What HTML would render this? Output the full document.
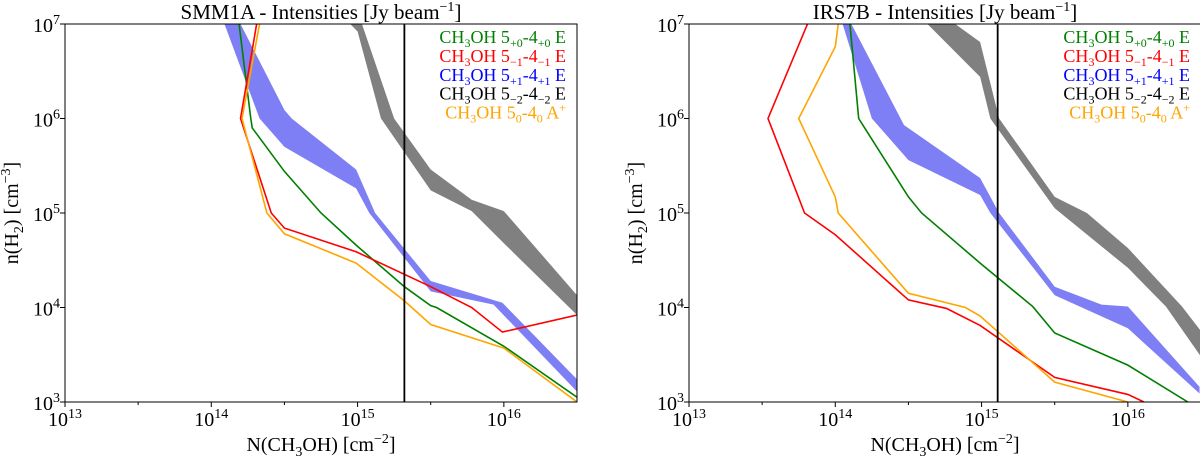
<!DOCTYPE html>
<html><head><meta charset="utf-8"><style>
body{margin:0;background:#fff}
svg{display:block;font-family:"Liberation Serif","DejaVu Serif",serif}
</style></head><body>
<svg id="fig" width="1200" height="457" viewBox="0 0 1200 457"></svg>
<script>
// ---- data (log10 N, log10 n) ----
const xTicks=[13,14,15,16];
const yTicks=[3,4,5,6,7];
const legendLabels=[["5","+0","4","+0"," E"],["5","−1","4","−1"," E"],["5","+1","4","+1"," E"],["5","−2","4","−2"," E"],["5","0","4","0"," A"]];
const legendColors=["green","red","blue","black","orange"];

const L_greenX=[14.19,14.27,14.28,14.50,14.75,14.99,15.32,15.50,15.54,16.0,16.5];
const L_greenY=[7,6.0,5.9,5.44,5.0,4.66,4.22,4.02,4.0,3.59,3.05];
const L_redX=[14.31,14.20,14.41,14.50,14.99,15.50,15.78,15.99,16.5];
const L_redY=[7,6.0,5.0,4.84,4.59,4.22,4.0,3.74,3.92];
const L_orangeX=[14.33,14.21,14.38,14.50,14.99,15.32,15.50,16.0,16.5];
const L_orangeY=[7,6.0,5.0,4.78,4.47,4.07,3.82,3.57,3.0];
const L_blueUpX=[14.2,14.50,14.55,14.99,15.12,15.50,15.99,16.5];
const L_blueUpY=[7,6.09,6.0,5.46,5.0,4.28,4.05,3.24];
const L_blueLoX=[14.09,14.33,14.50,14.99,15.08,15.50,15.93,16.5];
const L_blueLoY=[7,6.0,5.70,5.26,5.0,4.17,4.03,3.11];
const L_grayUpX=[15.03,15.25,15.50,15.78,16.0,16.5];
const L_grayUpY=[7,6.0,5.46,5.14,5.02,4.13];
const L_grayLoX=[14.95,15.0,15.16,15.50,15.78,16.0,16.5];
const L_grayLoY=[7,6.92,6.0,5.24,5.02,4.68,3.92];
const L_vline=15.32;

const R_greenX=[14.10,14.16,14.50,14.59,14.99,15.35,15.50,16.0,16.41];
const R_greenY=[7,6.0,5.17,5.0,4.47,4.01,3.73,3.39,3.0];
const R_redX=[13.81,13.54,13.79,14.0,14.50,14.76,14.99,15.50,16.0,16.11];
const R_redY=[7,6.0,5.0,4.77,4.08,3.99,3.81,3.26,3.08,3.0];
const R_orangeX=[14.02,14.0,13.75,14.0,14.02,14.50,14.89,14.99,15.50,16.0];
const R_orangeY=[7,6.76,6.0,5.17,5.0,4.15,4.0,3.91,3.21,3.0];
const R_blueUpX=[14.11,14.47,14.99,15.12,15.50,15.82,16.0,16.49];
const R_blueUpY=[7,5.93,5.37,5.0,4.22,4.03,4.01,3.16];
const R_blueLoX=[14.05,14.25,14.50,14.99,15.06,15.50,16.0,16.49];
const R_blueLoY=[7,6.0,5.56,5.19,5.0,4.13,3.78,3.09];
const R_grayUpX=[14.82,14.99,15.12,15.50,15.72,16.0,16.37,16.5];
const R_grayUpY=[7,6.81,6.0,5.17,5.0,4.63,4.01,3.75];
const R_grayLoX=[14.63,14.99,15.06,15.50,16.0,16.26,16.5];
const R_grayLoY=[7,6.44,6.0,5.05,4.42,4.01,3.48];
const R_vline=15.11;

const NS="http://www.w3.org/2000/svg";
const svg=document.getElementById('fig');
function el(tag,attrs,parent){const e=document.createElementNS(NS,tag);for(const k in attrs)e.setAttribute(k,attrs[k]);(parent||svg).appendChild(e);return e;}

function panel(x0,title,d){
  const top=24,bot=402,x1=x0+512;
  const g=el('g',{});
  
  
  const sx=v=>x0+(v-13)/3.5*(x1-x0);
  const sy=v=>bot-(v-3)/4*(bot-top);
  const cp=el('clipPath',{id:'c'+x0},g);
  el('rect',{x:x0,y:top,width:x1-x0,height:bot-top},cp);
  const pg=el('g',{'clip-path':'url(#c'+x0+')'},g);
  function band(ux,uy,lx,ly,col,name){
    let pts=ux.map((v,i)=>sx(v)+','+sy(uy[i]));
    for(let i=lx.length-1;i>=0;i--)pts.push(sx(lx[i])+','+sy(ly[i]));
    const p=el('polygon',{points:pts.join(' '),fill:col,stroke:'none'},pg);
    
    
  }
  function line(xs,ys,col,name){
    const p=el('polyline',{points:xs.map((v,i)=>sx(v)+','+sy(ys[i])).join(' '),fill:'none',stroke:col,'stroke-width':1.6},pg);
    
    
  }
  band(d.gux,d.guy,d.glx,d.gly,'#808080','gray-band-5-2');
  band(d.bux,d.buy,d.blx,d.bly,'#7f7ff5','blue-band-5p1');
  line(d.gx,d.gy,'green','green-line-5p0');
  line(d.rx,d.ry,'red','red-line-5m1');
  line(d.ox,d.oy,'orange','orange-line-5-0A');
  const vl=el('line',{x1:sx(d.v),x2:sx(d.v),y1:top,y2:bot,stroke:'black','stroke-width':1.8},pg);
  
  
  const fr=el('rect',{x:x0,y:top,width:x1-x0,height:bot-top,fill:'none',stroke:'black','stroke-width':1},g);
  
  
  xTicks.forEach(t=>{
    el('line',{x1:sx(t),x2:sx(t),y1:bot,y2:bot+5,stroke:'black'},g);
    if(t+0.5<16.5)el('line',{x1:sx(t+0.5),x2:sx(t+0.5),y1:bot,y2:bot+3,stroke:'black'},g);
    const tx=el('text',{x:sx(t),y:bot+24,'text-anchor':'middle','font-size':20},g);
    
    
    tx.innerHTML='10<tspan dy="-8" font-size="14">'+t+'</tspan>';
  });
  yTicks.forEach(t=>{
    el('line',{x1:x0-5,x2:x0,y1:sy(t),y2:sy(t),stroke:'black'},g);
    const ty=el('text',{x:x0-5,y:sy(t)+8,'text-anchor':'end','font-size':20},g);
    
    
    ty.innerHTML='10<tspan dy="-8" font-size="14">'+t+'</tspan>';
  });
  const tt=el('text',{x:(x0+x1)/2,y:19,'text-anchor':'middle','font-size':21},g);
  
  
  tt.innerHTML=title+' - Intensities [Jy beam<tspan dy="-8" font-size="14">−1</tspan><tspan dy="8">]</tspan>';
  const xl=el('text',{x:(x0+x1)/2,y:451,'text-anchor':'middle','font-size':20},g);
  
  
  xl.innerHTML='N(CH<tspan dy="5" font-size="14">3</tspan><tspan dy="-5">OH) [cm</tspan><tspan dy="-8" font-size="14">−2</tspan><tspan dy="8">]</tspan>';
  const yl=el('text',{x:0,y:0,'text-anchor':'middle','font-size':20,transform:'translate('+(x0-47)+','+((top+bot)/2)+') rotate(-90)'},g);
  
  
  yl.innerHTML='n(H<tspan dy="5" font-size="14">2</tspan><tspan dy="-5">) [cm</tspan><tspan dy="-8" font-size="14">−3</tspan><tspan dy="8">]</tspan>';
  legendLabels.forEach((lb,i)=>{
    const t=el('text',{x:x1-11,y:43+i*18.9,'text-anchor':'end','font-size':18,fill:legendColors[i]},g);
    
    
    let s='CH<tspan dy="4" font-size="12">3</tspan><tspan dy="-4">OH '+lb[0]+'</tspan><tspan dy="4" font-size="12">'+lb[1]+'</tspan><tspan dy="-4">-'+lb[2]+'</tspan><tspan dy="4" font-size="12">'+lb[3]+'</tspan><tspan dy="-4">'+lb[4]+'</tspan>';
    if(i==4)s+='<tspan dy="-7" font-size="12">+</tspan>';
    t.innerHTML=s;
  });
}
panel(65,'SMM1A',{gx:L_greenX,gy:L_greenY,rx:L_redX,ry:L_redY,ox:L_orangeX,oy:L_orangeY,bux:L_blueUpX,buy:L_blueUpY,blx:L_blueLoX,bly:L_blueLoY,gux:L_grayUpX,guy:L_grayUpY,glx:L_grayLoX,gly:L_grayLoY,v:L_vline});
panel(689,'IRS7B',{gx:R_greenX,gy:R_greenY,rx:R_redX,ry:R_redY,ox:R_orangeX,oy:R_orangeY,bux:R_blueUpX,buy:R_blueUpY,blx:R_blueLoX,bly:R_blueLoY,gux:R_grayUpX,guy:R_grayUpY,glx:R_grayLoX,gly:R_grayLoY,v:R_vline});
</script>
</body></html>
